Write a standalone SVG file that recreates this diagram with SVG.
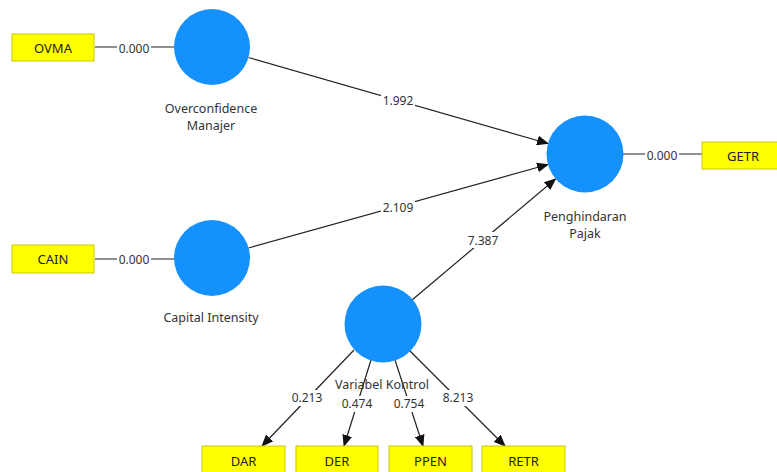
<svg xmlns="http://www.w3.org/2000/svg" width="777" height="472" viewBox="0 0 777 472">
<style>
.bg{fill:#ffffff}
.lv{fill:#1591fe}
.ind{fill:#ffff00;stroke:#c9c900;stroke-width:1}
.ln{stroke:#222;stroke-width:1.2;fill:none}
.ar{stroke:#222;stroke-width:1.2;fill:none;marker-end:url(#ah)}
.lab{fill:#fff}
.t{font-family:"Noto Sans","Open Sans","DejaVu Sans",sans-serif;fill:#333;text-anchor:middle}
.nm{font-size:12px}
.cl{font-size:12.5px}
.bx{font-size:13px;fill:#222}
</style>
<defs>
<marker id="ah" markerUnits="userSpaceOnUse" markerWidth="12" markerHeight="10" viewBox="0 0 12 10" refX="11" refY="5" orient="auto">
<path d="M0,0 L12,5 L0,10 z" fill="#111"/>
</marker>
</defs>
<rect class="bg" x="0" y="0" width="777" height="472"/>

<g id="connectors">
<line class="ln" x1="95" y1="47" x2="174" y2="47"/>
<line class="ln" x1="95" y1="259" x2="174" y2="259"/>
<line class="ln" x1="623" y1="154" x2="702" y2="154"/>
<line class="ar" x1="248.5" y1="57.5" x2="548" y2="143.5"/>
<line class="ar" x1="248.5" y1="248" x2="548" y2="164.5"/>
<line class="ar" x1="412" y1="300" x2="555.5" y2="179"/>
<line class="ar" x1="354" y1="350" x2="262" y2="446"/>
<line class="ar" x1="371" y1="360" x2="344" y2="446"/>
<line class="ar" x1="395" y1="360" x2="423" y2="446"/>
<line class="ar" x1="410" y1="351" x2="505" y2="446"/>
<rect class="lab" x="117" y="39" width="34" height="16"/>
<rect class="lab" x="117" y="251" width="34" height="16"/>
<rect class="lab" x="645" y="146" width="34" height="16"/>
<rect class="lab" x="381" y="93" width="34" height="16"/>
<rect class="lab" x="381" y="199" width="34" height="16"/>
<rect class="lab" x="466" y="232" width="34" height="16"/>
<rect class="lab" x="290" y="390" width="34" height="16"/>
<rect class="lab" x="340" y="396" width="34" height="16"/>
<rect class="lab" x="392" y="396" width="34" height="16"/>
<rect class="lab" x="441" y="390" width="34" height="16"/>
<text class="t nm" x="134" y="52.5">0.000</text>
<text class="t nm" x="134" y="264">0.000</text>
<text class="t nm" x="662" y="159.5">0.000</text>
<text class="t nm" x="398" y="105">1.992</text>
<text class="t nm" x="398" y="211.5">2.109</text>
<text class="t nm" x="483" y="244.5">7.387</text>
<text class="t nm" x="307" y="402">0.213</text>
<text class="t nm" x="357" y="408">0.474</text>
<text class="t nm" x="409" y="408">0.754</text>
<text class="t nm" x="458" y="402">8.213</text>
</g>

<g id="ovma"><rect class="ind" x="12" y="34" width="82" height="27"/><text class="t bx" x="53" y="52.5">OVMA</text></g>
<g id="cain"><rect class="ind" x="12" y="245" width="82" height="28"/><text class="t bx" x="53" y="264">CAIN</text></g>
<g id="getr"><rect class="ind" x="702" y="142" width="82" height="27"/><text class="t bx" x="743" y="160.5">GETR</text></g>
<g id="dar"><rect class="ind" x="202" y="446" width="83" height="28"/><text class="t bx" x="243.5" y="466">DAR</text></g>
<g id="der"><rect class="ind" x="296" y="446" width="82" height="28"/><text class="t bx" x="337" y="466">DER</text></g>
<g id="ppen"><rect class="ind" x="389" y="446" width="83" height="28"/><text class="t bx" x="430.5" y="466">PPEN</text></g>
<g id="retr"><rect class="ind" x="482" y="446" width="83" height="28"/><text class="t bx" x="523.5" y="466">RETR</text></g>

<g id="overconfidence"><circle class="lv" cx="212" cy="47" r="38"/><text class="t cl" x="211" y="113">Overconfidence</text><text class="t cl" x="211" y="130">Manajer</text></g>
<g id="capital-intensity"><circle class="lv" cx="212" cy="258" r="38"/><text class="t cl" x="211" y="322">Capital Intensity</text></g>
<g id="penghindaran-pajak"><circle class="lv" cx="585" cy="154" r="38.5"/><text class="t cl" x="585" y="221">Penghindaran</text><text class="t cl" x="585" y="238">Pajak</text></g>
<g id="variabel-kontrol"><circle class="lv" cx="383" cy="324" r="38.5"/><text class="t cl" x="382" y="389">Variabel Kontrol</text></g>
</svg>
